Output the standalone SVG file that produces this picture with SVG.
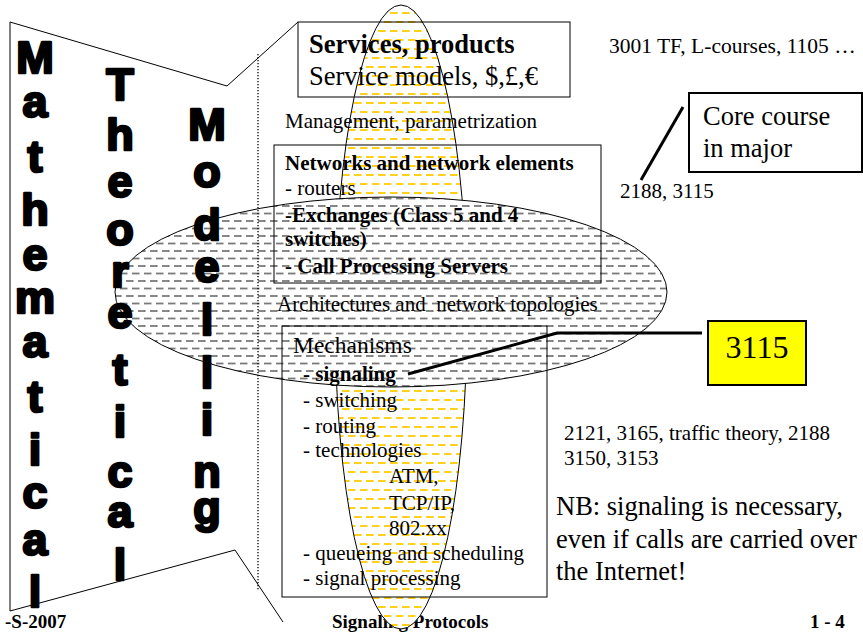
<svg xmlns="http://www.w3.org/2000/svg" width="863" height="632" viewBox="0 0 863 632">
<style>
.t{font-family:"Liberation Serif","Times New Roman",serif;fill:#000}
.b{font-weight:bold}
.s21{font-size:21px}
.s26{font-size:26.5px}
.big{font-family:"Liberation Sans",Arial,sans-serif;font-weight:bold;font-size:45px;fill:#000;stroke:#000;stroke-width:2.6;stroke-linejoin:round;text-anchor:middle}
.box{fill:none;stroke:#000;stroke-width:1}
.thin{fill:none;stroke:#000;stroke-width:1}
.thick{fill:none;stroke:#000;stroke-width:3}
</style>
<defs>
<pattern id="gdash" width="12" height="15" patternUnits="userSpaceOnUse">
<rect width="12" height="15" fill="#fff"/>
<g stroke="#7a7a7a" stroke-width="1.8">
<line x1="0" y1="3.5" x2="7.5" y2="3.5"/>
<line x1="6" y1="11" x2="12" y2="11"/>
<line x1="0" y1="11" x2="1.5" y2="11"/>
</g>
</pattern>
<pattern id="ydash" width="12" height="18" patternUnits="userSpaceOnUse">
<rect width="12" height="18" fill="#fff"/>
<g stroke="#FFCC00" stroke-width="1.8">
<line x1="0" y1="4" x2="7.5" y2="4"/>
<line x1="6" y1="13" x2="12" y2="13"/>
<line x1="0" y1="13" x2="1.5" y2="13"/>
</g>
</pattern>
</defs>

<g id="footer">
<text class="t b" font-size="19" x="5" y="628">-S-2007</text>
<text class="t b" font-size="19" x="332" y="628">Signaling Protocols</text>
<text class="t b" font-size="19" x="810" y="628">1 - 4</text>
</g>

<g id="frame">
<polyline class="thin" points="298,22 227,86 10,22 10,611 235,550 283,622"/>
</g>

<g id="focus-ellipse">
<ellipse cx="401" cy="317" rx="66" ry="312" fill="url(#ydash)" stroke="#000" stroke-width="1"/>
</g>
<g id="signaling-ellipse">
<ellipse cx="391" cy="292" rx="276" ry="95" fill="url(#gdash)" stroke="#000" stroke-width="1"/>
</g>

<g id="divider">
<line x1="258" y1="54" x2="258" y2="590" stroke="#000" stroke-width="1.3" stroke-dasharray="1.3,1.7"/>
</g>

<g id="connectors">
<polyline class="thick" points="408,374 557,333 702,333"/>
<line class="thick" x1="641" y1="180" x2="683" y2="107"/>
</g>

<g id="services">
<rect class="box" x="298" y="22" width="272" height="75"/>
<text class="t b s26" x="309" y="53">Services, products</text>
<text class="t s26" x="309" y="85">Service models, $,£,€</text>
</g>

<g id="courses-top">
<text class="t" font-size="21.5" x="609" y="53">3001 TF, L-courses, 1105 …</text>
</g>

<g id="management">
<text class="t s21" x="285" y="128">Management, parametrization</text>
</g>

<g id="core-course">
<rect x="689" y="93" width="173" height="79" fill="none" stroke="#000" stroke-width="2"/>
<text class="t s26" x="703" y="125">Core course</text>
<text class="t s26" x="703" y="157">in major</text>
</g>

<g id="courses-mid">
<text class="t s21" x="620" y="198">2188, 3115</text>
</g>

<g id="networks">
<rect class="box" x="274" y="145" width="327" height="138"/>
<text class="t b s21" x="285" y="170">Networks and network elements</text>
<text class="t s21" x="285" y="195">- routers</text>
<text class="t b s21" x="285" y="222">-Exchanges (Class 5 and 4</text>
<text class="t b s21" x="285" y="246">switches)</text>
<text class="t b s21" x="285" y="273">- Call Processing Servers</text>
</g>

<g id="architectures">
<text class="t s21" x="277" y="311" style="white-space:pre">Architectures and  network topologies</text>
</g>

<g id="mechanisms">
<rect class="box" x="282" y="326" width="265" height="271"/>
<text class="t" font-size="23.5" x="293" y="353">Mechanisms</text>
<text class="t b s21" x="303" y="381">- signaling</text>
<text class="t s21" x="303" y="407">- switching</text>
<text class="t s21" x="303" y="433">- routing</text>
<text class="t s21" x="303" y="457">- technologies</text>
<text class="t s21" x="389" y="483">ATM,</text>
<text class="t s21" x="389" y="510">TCP/IP,</text>
<text class="t s21" x="389" y="535">802.xx</text>
<text class="t s21" x="303" y="560">- queueing and scheduling</text>
<text class="t s21" x="303" y="585">- signal processing</text>
</g>

<g id="box-3115">
<rect x="708" y="321" width="98" height="64" fill="#FFFF00" stroke="#000" stroke-width="2"/>
<text class="t" font-size="32" x="757" y="358" text-anchor="middle">3115</text>
</g>

<g id="courses-low">
<text class="t s21" x="564" y="440">2121, 3165, traffic theory, 2188</text>
<text class="t s21" x="564" y="465">3150, 3153</text>
</g>

<g id="note">
<text class="t s26" x="556" y="515">NB: signaling is necessary,</text>
<text class="t s26" x="556" y="548">even if calls are carried over</text>
<text class="t s26" x="556" y="580">the Internet!</text>
</g>

<g id="mathematical">
<text class="big" x="35" y="73">M</text>
<text class="big" x="35" y="117">a</text>
<text class="big" x="35" y="172">t</text>
<text class="big" x="35" y="225">h</text>
<text class="big" x="35" y="270">e</text>
<text class="big" x="35" y="313">m</text>
<text class="big" x="35" y="357">a</text>
<text class="big" x="35" y="412">t</text>
<text class="big" x="35" y="465">i</text>
<text class="big" x="35" y="508">c</text>
<text class="big" x="35" y="555">a</text>
<text class="big" x="35" y="607">l</text>
</g>

<g id="theoretical">
<text class="big" x="120" y="100">T</text>
<text class="big" x="120" y="150">h</text>
<text class="big" x="120" y="197">e</text>
<text class="big" x="120" y="245">o</text>
<text class="big" x="120" y="287">r</text>
<text class="big" x="120" y="328">e</text>
<text class="big" x="120" y="385">t</text>
<text class="big" x="120" y="437">i</text>
<text class="big" x="120" y="487">c</text>
<text class="big" x="120" y="527">a</text>
<text class="big" x="120" y="580">l</text>
</g>

<g id="modelling">
<text class="big" x="207" y="140">M</text>
<text class="big" x="207" y="187">o</text>
<text class="big" x="207" y="240">d</text>
<text class="big" x="207" y="282">e</text>
<text class="big" x="207" y="335">l</text>
<text class="big" x="207" y="388">l</text>
<text class="big" x="207" y="435">i</text>
<text class="big" x="207" y="487">n</text>
<text class="big" x="207" y="523">g</text>
</g>
</svg>
